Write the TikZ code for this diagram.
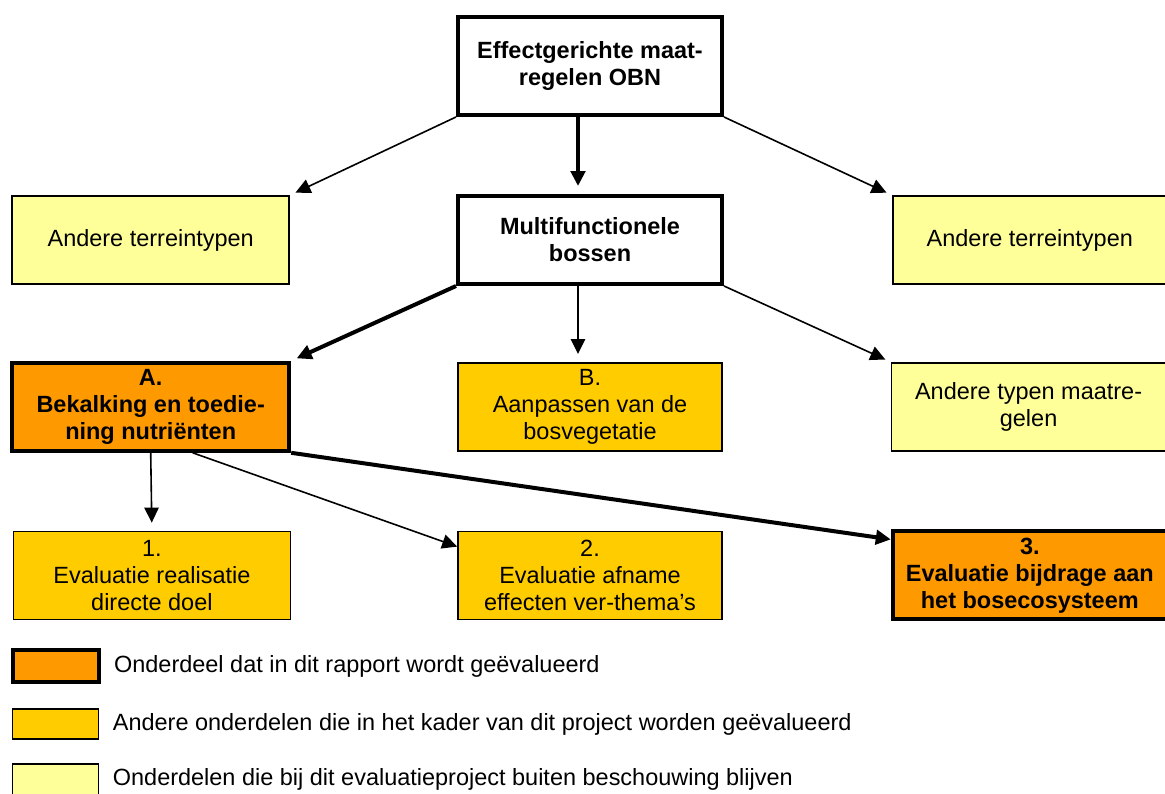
\documentclass[tikz,border=0pt]{standalone}
\usepackage{fontspec}
\setmainfont{Liberation Sans}
\usetikzlibrary{arrows.meta, positioning}
\definecolor{oranje}{HTML}{FF9900}
\definecolor{goud}{HTML}{FFCC00}
\definecolor{lichtgeel}{HTML}{FFFF99}
\newcommand{\tekst}{\fontsize{16.7pt}{19.2pt}\selectfont}
\tikzstyle{blok} = [
	rectangle,
	minimum height=2.2cm,
	inner sep=2pt,
	align=center,
	draw=black,
	font=\tekst
]
\tikzstyle{hoofd} = [
	blok,
	line width=0.1cm,
	fill=white,
	font=\tekst\bfseries
]
\tikzstyle{rapport} = [
	blok,
	line width=0.1cm,
	fill=oranje,
	font=\tekst\bfseries
]
\tikzstyle{project} = [
	blok,
	line width=0.04cm,
	fill=goud
]
\tikzstyle{buiten} = [
	blok,
	line width=0.04cm,
	fill=lichtgeel
]
\tikzstyle{legtekst} = [inner sep=0pt, font=\tekst]
\tikzstyle{arrow} = [line width=0.04cm, -{Triangle[length=0.375cm, width=0.36cm]}]
\tikzstyle{thickarrow} = [arrow, line width=0.1cm]
\begin{document}
\begin{tikzpicture}[node distance=1.9cm and 4.2cm]

		\useasboundingbox (0,0) rectangle (29.125,-19.825);

		\node (obn) [hoofd, minimum width=6.6cm, minimum height=2.45cm] at (14.75,-1.65) {Effectgerichte maat-\\regelen OBN};
		\node (multi) [hoofd, minimum width=6.6cm, below=1.925cm of obn] {Multifunctionele\\bossen};
		\node (ander1) [buiten, minimum width=6.925cm, left=4.15cm of multi] {Andere terreintypen};
		\node (ander2) [buiten, minimum width=6.85cm, right=of multi] {Andere terreintypen};

		\node (bee) [project, minimum width=6.6cm, below=of multi] {B.\\Aanpassen van de\\bosvegetatie};
		\node (aa) [rapport, minimum width=6.925cm, left=4.15cm of bee] {A.\\Bekalking en toedie-\\ning nutriënten};
		\node (typen) [buiten, minimum width=6.85cm, right=of bee] {Andere typen maatre-\\gelen};

		\node (twee) [project, minimum width=6.6cm, below=1.975cm of bee] {2.\\Evaluatie afname\\effecten ver-thema’s};
		\node (een) [project, minimum width=6.925cm, left=4.15cm of twee] {1.\\Evaluatie realisatie\\directe doel};
		\node (drie) [rapport, minimum width=6.85cm, right=of twee] {3.\\Evaluatie bijdrage aan\\het bosecosysteem};

		% legenda
		\node (leg1) [rapport, minimum width=2.15cm, minimum height=0.8cm, below=0.7cm of een.south west, anchor=north west, xshift=-0.05cm] {};
		\node (leg2) [project, minimum width=2.15cm, minimum height=0.75cm, below=0.6cm of leg1] {};
		\node (leg3) [buiten, minimum width=2.15cm, minimum height=0.8cm, below=0.58cm of leg2] {};
		\node (tekst1) [legtekst, right=0.33cm of leg1] {Onderdeel dat in dit rapport wordt geëvalueerd};
		\node (tekst2) [legtekst, right=0.33cm of leg2] {Andere onderdelen die in het kader van dit project worden geëvalueerd};
		\node (tekst3) [legtekst, right=0.33cm of leg3] {Onderdelen die bij dit evaluatieproject buiten beschouwing blijven};

		\draw [arrow, shorten >=0.15cm] (obn.south west) -- (ander1.north east);
		\draw [thickarrow, shorten >=0.2cm] ([xshift=-0.3cm]obn.south) -- ([xshift=-0.3cm]multi.north);
		\draw [arrow, shorten >=0.15cm] (obn.south east) -- (ander2.north west);

		\draw [thickarrow, shorten >=0.15cm] (multi.south west) -- (aa.north east);
		\draw [arrow, shorten >=0.2cm] ([xshift=-0.3cm]multi.south) -- ([xshift=-0.3cm]bee.north);
		\draw [arrow, shorten >=0.15cm] (multi.south east) -- (typen.north west);

		\draw [arrow, shorten >=0.2cm] (aa.south) -- (een.north);
		\draw [arrow] ([xshift=1.05cm]aa.south) -- ([yshift=-0.4cm]twee.north west);
		\draw [thickarrow] (aa.south east) -- ([yshift=-0.25cm]drie.north west);
	\end{tikzpicture}
\end{document}
